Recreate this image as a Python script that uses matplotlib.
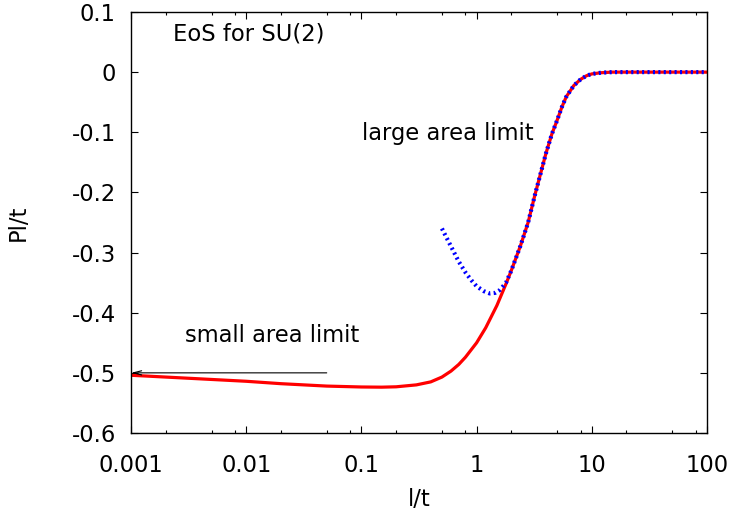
import matplotlib
matplotlib.use("Agg")
import matplotlib.pyplot as plt
from matplotlib.ticker import FixedLocator, NullFormatter

plt.rcParams['font.family'] = ['DejaVu Sans']

# full equation of state (red, solid)
x_eos = [0.001, 0.002, 0.004, 0.01, 0.02, 0.05, 0.1, 0.15, 0.2, 0.3, 0.4, 0.5,
         0.6, 0.7, 0.8, 1.0, 1.2, 1.5, 1.8, 2.0, 2.4, 2.8, 3.2, 3.6, 4.0, 4.5,
         5.0, 5.5, 6.0, 7.0, 8.0, 9.0, 10, 12, 15, 20, 50, 100]
y_eos = [-0.504, -0.507, -0.510, -0.514, -0.518, -0.522, -0.5235, -0.5238, -0.5232,
         -0.520, -0.515, -0.507, -0.497, -0.486, -0.474, -0.450, -0.425, -0.388,
         -0.352, -0.330, -0.289, -0.250, -0.205, -0.168, -0.135, -0.103, -0.080,
         -0.058, -0.041, -0.022, -0.012, -0.006, -0.003, -0.001, 0, 0, 0, 0]

# large area limit (blue, dotted)
x_large = [0.5, 0.6, 0.7, 0.8, 0.9, 1.0, 1.15, 1.3, 1.45, 1.6, 1.8, 2.0, 2.4, 2.8,
           3.2, 3.6, 4.0, 4.5, 5.0, 5.5, 6.0, 7.0, 8.0, 9.0, 10, 12, 15, 20, 50, 100]
y_large = [-0.260, -0.290, -0.315, -0.333, -0.346, -0.356, -0.364, -0.368, -0.367,
           -0.362, -0.350, -0.330, -0.289, -0.250, -0.205, -0.168, -0.135, -0.103,
           -0.080, -0.058, -0.041, -0.022, -0.012, -0.006, -0.003, -0.001, 0, 0, 0, 0]

# small area limit value
small_limit = -0.5

xticks = [0.001, 0.01, 0.1, 1, 10, 100]
xticklabels = ["0.001", "0.01", "0.1", "1", "10", "100"]
yticks = [-0.6, -0.5, -0.4, -0.3, -0.2, -0.1, 0, 0.1]
yticklabels = ["-0.6", "-0.5", "-0.4", "-0.3", "-0.2", "-0.1", "0", "0.1"]

fs = 16.3

fig = plt.figure(figsize=(7.36, 5.12), dpi=100)
ax = fig.add_axes([0.178, 0.1543, 0.7826, 0.8223])

ax.plot(x_eos, y_eos, color='red', lw=2.3, solid_capstyle='butt')
ax.plot(x_large, y_large, color='blue', lw=3.0, linestyle=(0, (0.5, 0.8)))

ax.annotate("", xy=(0.001, small_limit), xytext=(0.05, small_limit),
            arrowprops=dict(arrowstyle='->,head_length=0.6,head_width=0.15',
                            color='black', lw=0.8, shrinkA=0, shrinkB=0))

ax.text(0.00233, 0.063, "EoS for SU(2)", fontsize=fs, va='center', ha='left')
ax.text(0.101, -0.1015, "large area limit", fontsize=fs, va='center', ha='left')
ax.text(0.00294, -0.4376, "small area limit", fontsize=fs, va='center', ha='left')

ax.set_xscale('log')
ax.set_xlim(0.001, 100)
ax.set_ylim(-0.6, 0.1)
ax.xaxis.set_major_locator(FixedLocator(xticks))
ax.set_xticklabels(xticklabels)
minors = [m * 10.0 ** e for e in range(-3, 2) for m in (2, 5, 8)]
ax.xaxis.set_minor_locator(FixedLocator(minors))
ax.xaxis.set_minor_formatter(NullFormatter())
ax.set_yticks(yticks)
ax.set_yticklabels(yticklabels)

ax.tick_params(which='both', direction='in', top=True, right=True,
               labelsize=fs, width=0.8)
ax.tick_params(which='major', length=5)
ax.tick_params(axis='y', which='major', pad=11)
ax.tick_params(axis='x', which='major', pad=15)
ax.tick_params(which='minor', length=2.5)

for s in ax.spines.values():
    s.set_linewidth(1.0)

ax.set_xlabel("l/t", fontsize=fs, labelpad=8)
ax.set_ylabel("Pl/t", fontsize=fs, labelpad=30)

fig.savefig("out.png", dpi=100)
